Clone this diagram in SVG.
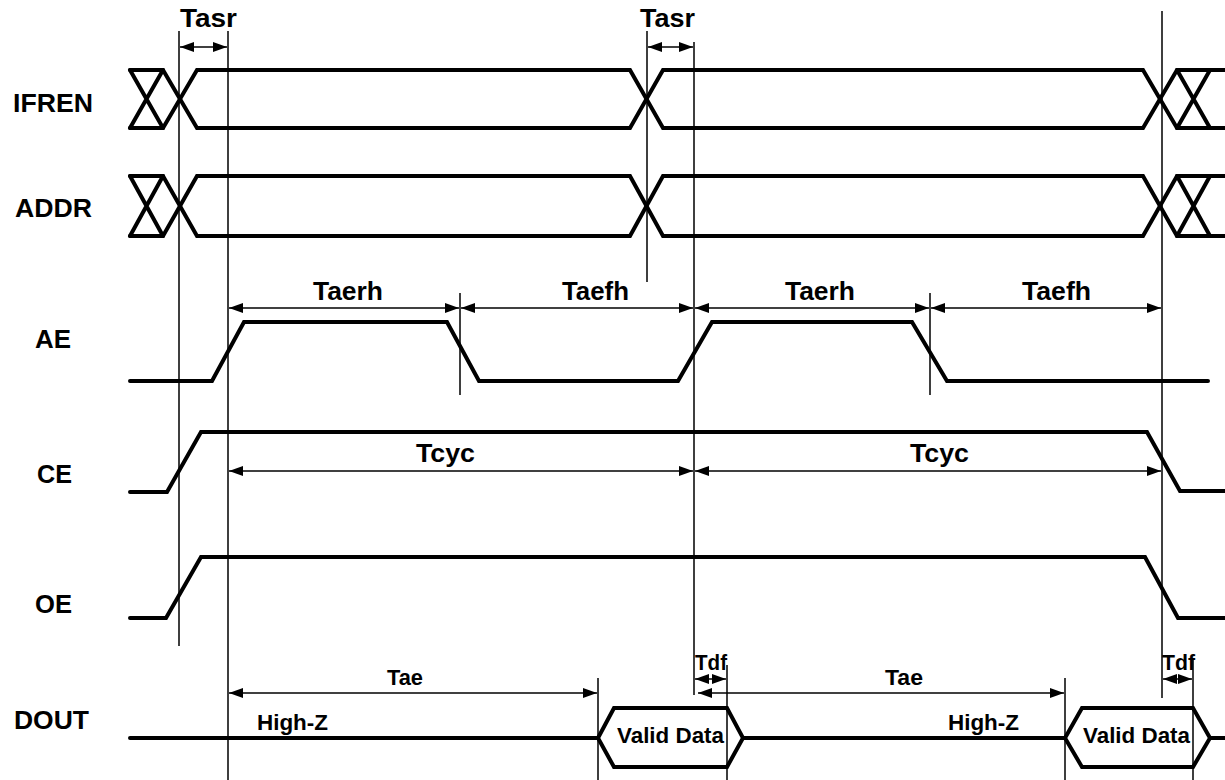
<svg xmlns="http://www.w3.org/2000/svg" width="1225" height="780" viewBox="0 0 1225 780">
<style>
.sig{fill:none;stroke:#000;stroke-width:4;stroke-linejoin:miter;stroke-linecap:round}
.hex{fill:#fff;stroke:#000;stroke-width:4;stroke-linejoin:miter}
.vl{fill:none;stroke:#000;stroke-width:1.5}
.dim{fill:none;stroke:#000;stroke-width:1.5;marker-start:url(#ah);marker-end:url(#ah)}
text{font-family:"Liberation Sans",Arial,Helvetica,sans-serif;font-weight:bold;fill:#000}
.lab{font-size:25px}
.tl{font-size:25px}
.sm{font-size:22px}
</style>
<defs>
<marker id="ah" viewBox="0 0 14 10" markerWidth="14" markerHeight="10" refX="14" refY="5" orient="auto-start-reverse" markerUnits="userSpaceOnUse">
<path d="M0,0 L14,5 L0,10 z" fill="#000"/>
</marker>
</defs>
<rect width="1225" height="780" fill="#fff"/>

<g id="IFREN">
<text class="lab" x="13" y="112" textLength="80" lengthAdjust="spacingAndGlyphs">IFREN</text>
<path class="sig" d="M130,70 H163 L197,128 H630 L663,70 H1143 L1177,128 H1225"/>
<path class="sig" d="M130,128 H163 L197,70 H630 L663,128 H1143 L1177,70 H1225"/>
<path class="sig" d="M130,70 L163,128 M130,128 L163,70 M1177,70 L1210,128 M1177,128 L1210,70"/>
</g>

<g id="ADDR">
<text class="lab" x="15" y="217" textLength="77" lengthAdjust="spacingAndGlyphs">ADDR</text>
<path class="sig" d="M130,176 H163 L197,236 H630 L663,176 H1143 L1177,236 H1225"/>
<path class="sig" d="M130,236 H163 L197,176 H630 L663,236 H1143 L1177,176 H1225"/>
<path class="sig" d="M130,176 L163,236 M130,236 L163,176 M1177,176 L1210,236 M1177,236 L1210,176"/>
</g>

<g id="AE">
<text class="lab" x="35" y="348" textLength="36" lengthAdjust="spacingAndGlyphs">AE</text>
<path class="sig" d="M130,381 H212 L244,322 H447 L479,381 H678 L712,322 H912 L947,381 H1208"/>
</g>

<g id="CE">
<text class="lab" x="37" y="483" textLength="35" lengthAdjust="spacingAndGlyphs">CE</text>
<path class="sig" d="M130,492 H167 L201,432 H1147 L1180,491 H1225"/>
</g>

<g id="OE">
<text class="lab" x="35" y="613" textLength="37" lengthAdjust="spacingAndGlyphs">OE</text>
<path class="sig" d="M130,618 H166 L201,557 H1145 L1178,618 H1225"/>
</g>

<g id="DOUT">
<text class="lab" x="14" y="729" textLength="75" lengthAdjust="spacingAndGlyphs">DOUT</text>
<path class="sig" d="M130,738 H598 M743,738 H1065 M1210,738 H1225"/>
<path class="hex" d="M598,738 L614,708 H727 L743,738 L727,767 H614 Z"/>
<path class="hex" d="M1065,738 L1082,708 H1193 L1210,738 L1193,767 H1082 Z"/>
<text class="sm" x="257" y="730" textLength="71" lengthAdjust="spacingAndGlyphs">High-Z</text>
<text class="sm" x="948" y="730" textLength="71" lengthAdjust="spacingAndGlyphs">High-Z</text>
<text class="sm" x="617" y="743" textLength="107" lengthAdjust="spacingAndGlyphs">Valid Data</text>
<text class="sm" x="1083" y="743" textLength="107" lengthAdjust="spacingAndGlyphs">Valid Data</text>
</g>

<g id="connectors">
<path class="vl" d="M179,31 V646 M228,31 V780 M460,293 V395 M647,31 V282 M694,42 V695 M727,665 V780 M930,293 V395 M1162,11 V698 M1193,660 V780 M598,678 V780 M1065,678 V780"/>
<path class="dim" d="M180,47 H227"/>
<path class="dim" d="M648,47 H693"/>
<path class="dim" d="M229,308 H459"/>
<path class="dim" d="M461,308 H693"/>
<path class="dim" d="M695,308 H929"/>
<path class="dim" d="M931,308 H1161"/>
<path class="dim" d="M229,471 H693"/>
<path class="dim" d="M695,471 H1161"/>
<path class="dim" d="M229,693 H597"/>
<path class="dim" d="M698,693 H1064"/>
<path class="dim" d="M695,679 H726"/>
<path class="dim" d="M1163,679 H1192"/>
<text class="tl" x="180" y="27" textLength="57" lengthAdjust="spacingAndGlyphs">Tasr</text>
<text class="tl" x="640" y="27" textLength="55" lengthAdjust="spacingAndGlyphs">Tasr</text>
<text class="tl" x="313" y="300" textLength="70" lengthAdjust="spacingAndGlyphs">Taerh</text>
<text class="tl" x="562" y="300" textLength="67" lengthAdjust="spacingAndGlyphs">Taefh</text>
<text class="tl" x="785" y="300" textLength="70" lengthAdjust="spacingAndGlyphs">Taerh</text>
<text class="tl" x="1022" y="300" textLength="69" lengthAdjust="spacingAndGlyphs">Taefh</text>
<text class="tl" x="416" y="462" textLength="59" lengthAdjust="spacingAndGlyphs">Tcyc</text>
<text class="tl" x="910" y="462" textLength="59" lengthAdjust="spacingAndGlyphs">Tcyc</text>
<text class="sm" x="387" y="685" textLength="36" lengthAdjust="spacingAndGlyphs">Tae</text>
<text class="sm" x="885" y="685" textLength="38" lengthAdjust="spacingAndGlyphs">Tae</text>
<text class="sm" x="695" y="670" textLength="32" lengthAdjust="spacingAndGlyphs">Tdf</text>
<text class="sm" x="1162" y="670" textLength="33" lengthAdjust="spacingAndGlyphs">Tdf</text>
</g>
</svg>
